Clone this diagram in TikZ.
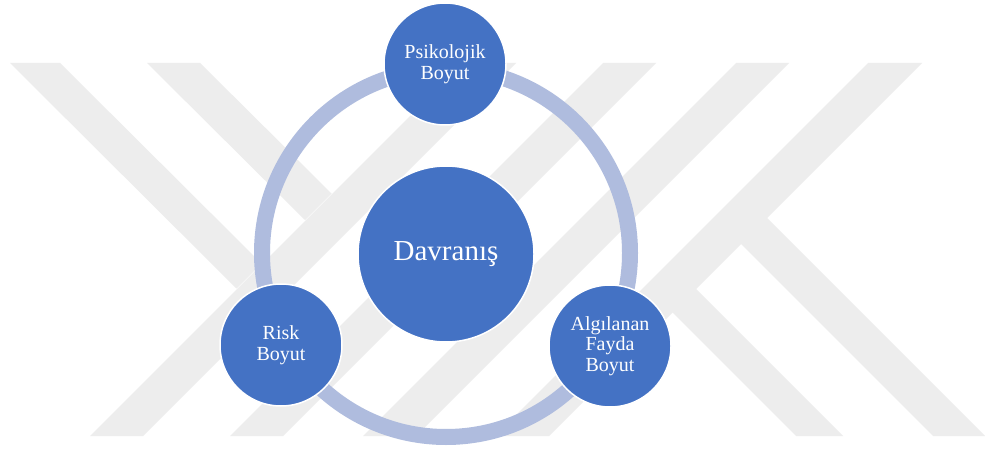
\documentclass[tikz,border=0pt]{standalone}
\usepackage{fontspec}
\setmainfont{Liberation Serif}
\definecolor{wm}{RGB}{237,237,237}
\definecolor{ringcol}{RGB}{175,188,222}
\definecolor{nodeblue}{RGB}{68,114,196}
\begin{document}
\begin{tikzpicture}[x=1pt,y=-1pt,
  wmband/.style={fill=wm,draw=none},
  bigcirc/.style={circle,fill=nodeblue,draw=white,line width=1.5pt,minimum size=176pt,inner sep=0pt,text=white,font=\fontsize{29}{31}\selectfont,align=center},
  smallcirc/.style={circle,fill=nodeblue,draw=white,line width=1.5pt,minimum size=122pt,inner sep=0pt,text=white,font=\fontsize{20}{20.5}\selectfont,align=center},
  ringline/.style={draw=ringcol,line width=16pt}]
\useasboundingbox (0,0) rectangle (985,449);
\fill[white] (0,0) rectangle (985,449);
% watermark
\fill[wmband] (10,63) -- (60,63) -- (261.5,263.5) -- (236.5,288.5) -- cycle;
\fill[wmband] (147,63) -- (200,63) -- (331.5,193.5) -- (305,220) -- cycle;
\fill[wmband] (90,436) -- (143,436) -- (516,63) -- (463,63) -- cycle;
\fill[wmband] (230,436) -- (283,436) -- (656,63) -- (603,63) -- cycle;
\fill[wmband] (363,436) -- (416,436) -- (789,63) -- (736,63) -- cycle;
\fill[wmband] (495,436) -- (549,436) -- (922,63) -- (868,63) -- cycle;
\fill[wmband] (695.5,288.5) -- (843,436) -- (796,436) -- (672,312) -- cycle;
\fill[wmband] (766.5,217.5) -- (985,436) -- (933,436) -- (740.5,243.5) -- cycle;
% ring
\coordinate (center) at (446,253);
\draw[ringline] (center) circle[radius=184pt];
% nodes
\node[bigcirc] (davranis) at (446,254) {Davranış};
\node[smallcirc] (psik) at (445,64) {Psikolojik\\Boyut};
\node[smallcirc] (risk) at (281,345) {Risk\\Boyut};
\node[smallcirc] (fayda) at (610,346) {Algılanan\\Fayda\\Boyut};
\end{tikzpicture}
\end{document}
